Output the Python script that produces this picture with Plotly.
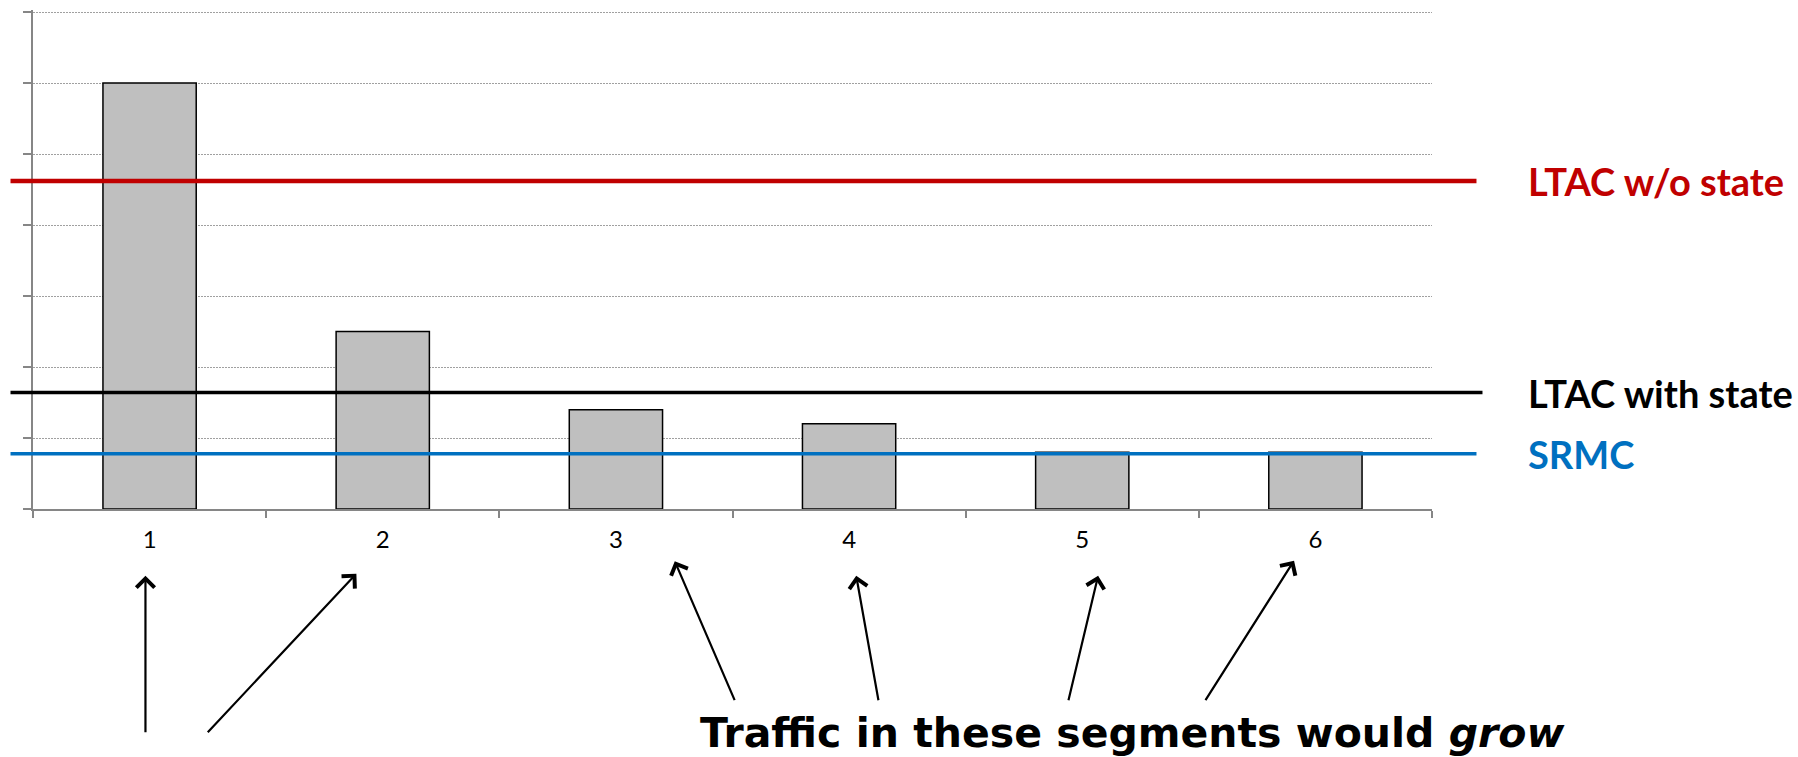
import plotly.graph_objects as go

# ---- data ----
segments = ["1", "2", "3", "4", "5", "6"]
segment_values = [6.0, 2.5, 1.4, 1.2, 0.8, 0.8]

line_names = ["LTAC w/o state", "LTAC with state", "SRMC"]
line_values = [4.62, 1.64, 0.78]
line_colors = ["#C00000", "#000000", "#0070C0"]
line_widths = [4.5, 3.5, 3.5]
line_right_px = [1477, 1483, 1477]

bottom_text = "<b>Traffic in these segments would <i>grow</i></b>"

# arrow heads / tails in pixel coordinates of the 1798x757 canvas
arrow_heads = [(145.5, 576), (356.5, 574), (675, 561.5), (856.5, 576), (1098.5, 576), (1294.5, 561)]
arrow_tails = [(145.5, 734), (206.5, 734), (735.5, 702), (879, 702), (1068.5, 702), (1205, 702)]

# ---- layout geometry ----
W, H = 1798, 757
PL, PR, PT, PB = 33, 1432.5, 10.2, 509.3
YMAX = 7.03


def px2paper_x(px):
    return (px - PL) / (PR - PL)


def px2paper_y(py):
    return (PB - py) / (PB - PT)


fig = go.Figure()
fig.add_trace(go.Bar(
    x=segments, y=segment_values,
    marker=dict(color="#BFBFBF", line=dict(color="#000000", width=1.5)),
    showlegend=False, hoverinfo="skip",
))

shapes = []
annotations = []
for name, val, col, lw, xr in zip(line_names, line_values, line_colors, line_widths, line_right_px):
    shapes.append(dict(
        type="line", xref="paper", yref="y",
        x0=px2paper_x(10.5), x1=px2paper_x(xr), y0=val, y1=val,
        line=dict(color=col, width=lw), layer="above",
    ))
    annotations.append(dict(
        text="<b>" + name + "</b>", xref="paper", yref="y",
        x=px2paper_x(1527), y=val, xanchor="left", yanchor="middle",
        showarrow=False, font=dict(family="Lato", size=38, color=col),
    ))

for (hx, hy), (tx, ty) in zip(arrow_heads, arrow_tails):
    annotations.append(dict(
        text="", xref="paper", yref="paper",
        x=px2paper_x(hx), y=px2paper_y(hy),
        axref="pixel", ayref="pixel", ax=tx - hx, ay=ty - hy,
        showarrow=True, arrowhead=4, arrowsize=1.6, arrowwidth=2.2,
        arrowcolor="#000000", standoff=0, startstandoff=0,
    ))

annotations.append(dict(
    text=bottom_text, xref="paper", yref="paper",
    x=px2paper_x(1132.5), y=px2paper_y(733), xanchor="center", yanchor="middle",
    showarrow=False, font=dict(family="DejaVu Sans", size=41, color="#000000"),
))

fig.update_layout(
    width=W, height=H,
    margin=dict(l=PL, r=W - PR, t=PT, b=H - PB, pad=0),
    paper_bgcolor="white", plot_bgcolor="white",
    bargap=0.6,
    shapes=shapes, annotations=annotations,
    xaxis=dict(
        type="category", showgrid=False, showline=True, linecolor="#868686", linewidth=2,
        ticks="outside", tickson="boundaries", ticklen=7, tickwidth=2, tickcolor="#868686",
        tickfont=dict(family="Lato", size=24, color="#000000"), zeroline=False,
        ticklabelstandoff=8,
    ),
    yaxis=dict(
        range=[0, YMAX], tickvals=[0, 1, 2, 3, 4, 5, 6, 7], showticklabels=False,
        showline=True, linecolor="#868686", linewidth=2,
        ticks="outside", ticklen=8, tickwidth=2, tickcolor="#868686",
        showgrid=True, gridcolor="#A0A0A0", gridwidth=1.3, griddash="1.5px,1.5px", zeroline=False,
    ),
)

fig.write_html("out.html", config={"displayModeBar": False},
               post_script="document.body.style.margin='0px';")
